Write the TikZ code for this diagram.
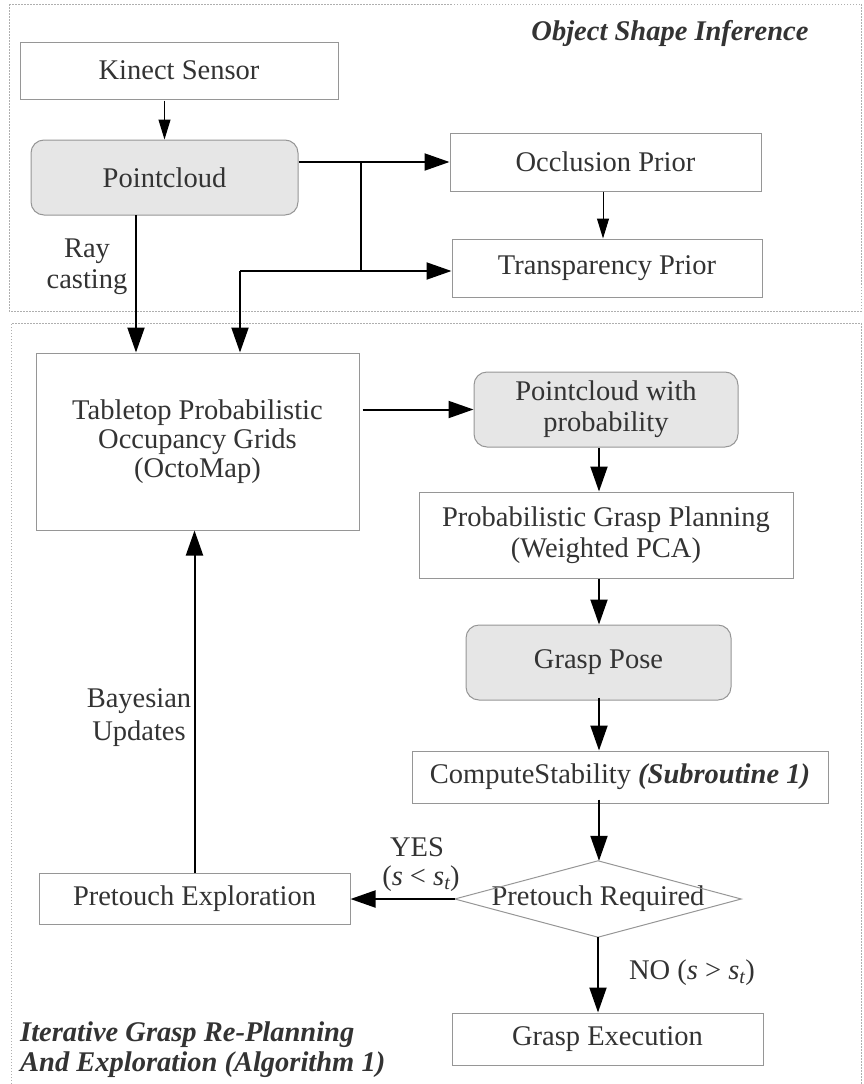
\documentclass[tikz,border=0pt]{standalone}
\usepackage{fontspec}
\setmainfont{Liberation Serif}
\usetikzlibrary{arrows.meta}

\definecolor{txt}{RGB}{51,51,51}
\definecolor{edge}{RGB}{150,150,150}
\definecolor{shade}{RGB}{230,230,230}
\definecolor{framec}{RGB}{175,175,175}

\newcommand\diagfont{\fontsize{28.5}{31}\selectfont}

\tikzset{
  box/.style={draw=edge, line width=1pt, fill=white, inner sep=0pt,
              align=center, text=txt, font=\diagfont},
  softbox/.style={box, fill=shade, rounded corners=13pt},
  arr/.style={line width=2pt, -{Triangle[length=25pt,width=17pt]}},
  thinarr/.style={line width=1pt, -{Triangle[length=20pt,width=12pt]}},
  lbl/.style={text=txt, font=\diagfont, align=center, inner sep=0pt},
  group/.style={draw=framec, line width=0.8pt, dash pattern=on 1.5pt off 1.5pt},
}

\begin{document}
\begin{tikzpicture}[x=1pt,y=-1pt]
\useasboundingbox (0,0) rectangle (863,1084);

% group frames
\draw[group] (9,4) rectangle (861,311);
\draw[group] (11,1084) -- (11,323) -- (861,323) -- (861,1084);

% group titles
\node[lbl] (ttop) at (670,33) {\textbf{\textit{Object Shape Inference}}};
\node[lbl, align=left, anchor=west, font=\fontsize{28.5}{30}\selectfont]
  (tbot) at (20,1050) {\textbf{\textit{Iterative Grasp Re-Planning}}\\
                       \textbf{\textit{And Exploration (Algorithm 1)}}};

% shape inference stage
\node[box, minimum width=318pt, minimum height=57pt] (kinect) at (179,70.5) {Kinect Sensor};
\node[softbox, minimum width=267pt, minimum height=75pt] (pc) at (164.5,177.5) {Pointcloud};
\node[box, minimum width=311pt, minimum height=58pt] (occ) at (605.5,162) {Occlusion Prior};
\node[box, minimum width=310pt, minimum height=58pt] (tra) at (607,268) {Transparency Prior};

% planning and exploration stage
\node[box, minimum width=323pt, minimum height=177pt,
      font=\fontsize{28.5}{29}\selectfont] (octo) at (197.5,441.5)
  {Tabletop Probabilistic\\Occupancy Grids\\(OctoMap)};
\node[softbox, minimum width=264pt, minimum height=75pt] (pcp) at (606,409.5)
  {Pointcloud with\\probability};
\node[box, minimum width=374pt, minimum height=86pt] (pgp) at (606,535)
  {Probabilistic Grasp Planning\\(Weighted PCA)};
\node[softbox, minimum width=265pt, minimum height=75pt] (gp) at (598.5,662.5) {Grasp Pose};
\node[box, minimum width=416pt, minimum height=52pt] (cs) at (620,777)
  {ComputeStability \textbf{\textit{(Subroutine 1)}}};
\node[lbl, minimum width=286pt, minimum height=76pt] (dec) at (598,899) {Pretouch Required};
\draw[edge, line width=1pt] (dec.north) -- (dec.east) -- (dec.south) -- (dec.west) -- cycle;
\node[box, minimum width=311pt, minimum height=51pt] (pe) at (194.5,898.5) {Pretouch Exploration};
\node[box, minimum width=311pt, minimum height=52pt] (ge) at (607.5,1039) {Grasp Execution};

% helper points for the branching connectors
\coordinate (br1) at (361,162);
\coordinate (br2) at (361,271);
\coordinate (br3) at (240,271);
\coordinate (rc) at (136,215);
\coordinate (col) at (599,0);

% connectors: shape inference
\draw[thinarr] (kinect.south -| pc.south) ++(0,1) -- (pc.north);
\draw[arr] (pc.east |- occ.west) -- (occ.west);
\draw[line width=2pt] (br1) -- (br2);
\draw[arr] (br3) -- (tra.west |- br3);
\draw[arr] (br3) -- (br3 |- octo.north);
\draw[arr] (rc) -- (rc |- octo.north);
\draw[thinarr] (occ.south -| 603,0) -- (tra.north -| 603,0);

% connectors: planning loop
\draw[arr] ([xshift=3pt]octo.east |- pcp.west) -- (pcp.west);
\draw[arr] (pcp.south -| col) -- (pgp.north -| col);
\draw[arr] (pgp.south -| col) -- (gp.north -| col);
\draw[arr] ([yshift=3pt]gp.south -| col) -- (cs.north -| col);
\draw[arr] ([yshift=4pt]cs.south -| col) -- (dec.north -| col);
\draw[arr] (dec.west) -- (pe.east |- dec.west);
\draw[arr] (dec.south) -- (ge.north -| dec.south);
\draw[arr] (pe.north) -- (pe.north |- octo.south);

% connector labels
\node[lbl, font=\fontsize{28.5}{31}\selectfont] (lray) at (87,267) {Ray\\casting};
\node[lbl, font=\fontsize{28.5}{33}\selectfont] (lbay) at (139,718) {Bayesian\\Updates};
\node[lbl] (lyes) at (417,847) {YES};
\node[lbl] (lyescond) at (421,879) {(\textit{s} < \textit{s}\raisebox{-0.25ex}{\fontsize{20}{20}\selectfont\textit{t}})};
\node[lbl] (lno) at (692,973) {NO (\textit{s} > \textit{s}\raisebox{-0.25ex}{\fontsize{20}{20}\selectfont\textit{t}})};
\end{tikzpicture}
\end{document}
